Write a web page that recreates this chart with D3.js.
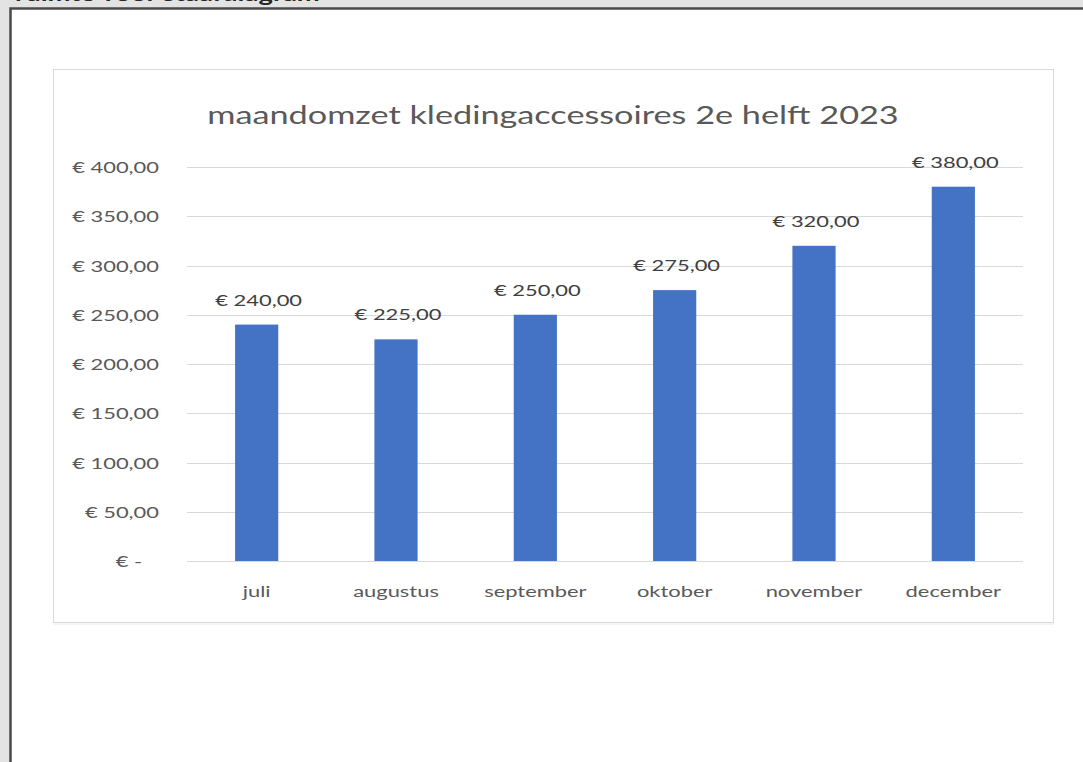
<!DOCTYPE html>
<html>
<head>
<meta charset="utf-8">
<script src="https://cdn.jsdelivr.net/npm/d3@7"></script>
<style>
  body { margin: 0; background: #e3e3e3; overflow: hidden; }
  svg { display: block; }
  text { font-family: Lato, "Open Sans", sans-serif; }
</style>
</head>
<body>
<svg id="main-vis"></svg>
<script>
const months = ["juli", "augustus", "september", "oktober", "november", "december"];
const omzet = [240, 225, 250, 275, 320, 380];
const yTicks = [0, 50, 100, 150, 200, 250, 300, 350, 400];
const chartTitle = "maandomzet kledingaccessoires 2e helft 2023";
const pageLabel = "ruimte voor staafdiagram";

const width = 1083;
const height = 762;
const SX = 1.37; // the screenshot is stretched sideways, so the text is too

const svg = d3.select("#main-vis")
  .attr("width", width)
  .attr("height", height);

// page background + white frame of the text box
svg.append("rect").attr("width", width).attr("height", height).attr("fill", "#e3e3e3");
svg.append("rect")
  .attr("x", 11).attr("y", 9)
  .attr("width", width).attr("height", height)
  .attr("fill", "#fff");
svg.append("path")
  .attr("d", `M10.5,${height} V8.5 H${width}`)
  .attr("fill", "none")
  .attr("stroke", "#4a4a4a")
  .attr("stroke-width", 2.5);

// text above the box, mostly cut off by the window (as in the screenshot)
svg.append("text")
  .attr("transform", `translate(15,1) scale(${SX},1)`)
  .attr("font-size", 20)
  .attr("font-weight", "bold")
  .attr("fill", "#262626")
  .text(pageLabel);

// chart area
svg.append("line")
  .attr("x1", 54).attr("x2", 1054).attr("y1", 624).attr("y2", 624)
  .attr("stroke", "#ececec");
svg.append("rect")
  .attr("x", 53.5).attr("y", 69.5)
  .attr("width", 1000).attr("height", 553)
  .attr("fill", "#fff")
  .attr("stroke", "#d9d9d9");

const x = d3.scaleBand()
  .domain(months)
  .range([187, 1023])
  .paddingInner(0.69)
  .paddingOuter(0.345);

const y = d3.scaleLinear()
  .domain([0, 400])
  .range([561, 167]);

const nl = d3.formatLocale({ decimal: ",", thousands: ".", grouping: [3], currency: ["€ ", ""] });
const euro = v => v === 0 ? "€ -\u00a0\u00a0\u00a0" : nl.format("$,.2f")(v);

// title, centred on the chart area
svg.append("text")
  .attr("transform", `translate(553,124) scale(${SX},1)`)
  .attr("text-anchor", "middle")
  .attr("font-size", 25)
  .attr("fill", "#595959")
  .text(chartTitle);

// gridlines
svg.append("g")
  .selectAll("line")
  .data(yTicks)
  .enter()
  .append("line")
  .attr("x1", 187).attr("x2", 1023)
  .attr("y1", d => Math.round(y(d)) + 0.5)
  .attr("y2", d => Math.round(y(d)) + 0.5)
  .attr("stroke", "#d9d9d9");

// y labels
svg.append("g")
  .selectAll("text")
  .data(yTicks)
  .enter()
  .append("text")
  .attr("transform", d => `translate(159,${y(d) + 6}) scale(${SX},1)`)
  .attr("text-anchor", "end")
  .attr("font-size", 16)
  .attr("fill", "#595959")
  .text(euro);

// bars
svg.append("g")
  .selectAll("rect")
  .data(omzet)
  .enter()
  .append("rect")
  .attr("x", (d, i) => x(months[i]))
  .attr("y", d => y(d))
  .attr("width", x.bandwidth())
  .attr("height", d => y(0) - y(d))
  .attr("fill", "#4472c4");

// value labels
svg.append("g")
  .selectAll("text")
  .data(omzet)
  .enter()
  .append("text")
  .attr("transform", (d, i) => `translate(${x(months[i]) + x.bandwidth() / 2 + 2},${y(d) - 19}) scale(${SX},1)`)
  .attr("text-anchor", "middle")
  .attr("font-size", 16)
  .attr("fill", "#404040")
  .text(euro);

// category labels
svg.append("g")
  .selectAll("text")
  .data(months)
  .enter()
  .append("text")
  .attr("transform", d => `translate(${x(d) + x.bandwidth() / 2},597) scale(${SX},1)`)
  .attr("text-anchor", "middle")
  .attr("font-size", 16)
  .attr("fill", "#595959")
  .text(d => d);
</script>
</body>
</html>
